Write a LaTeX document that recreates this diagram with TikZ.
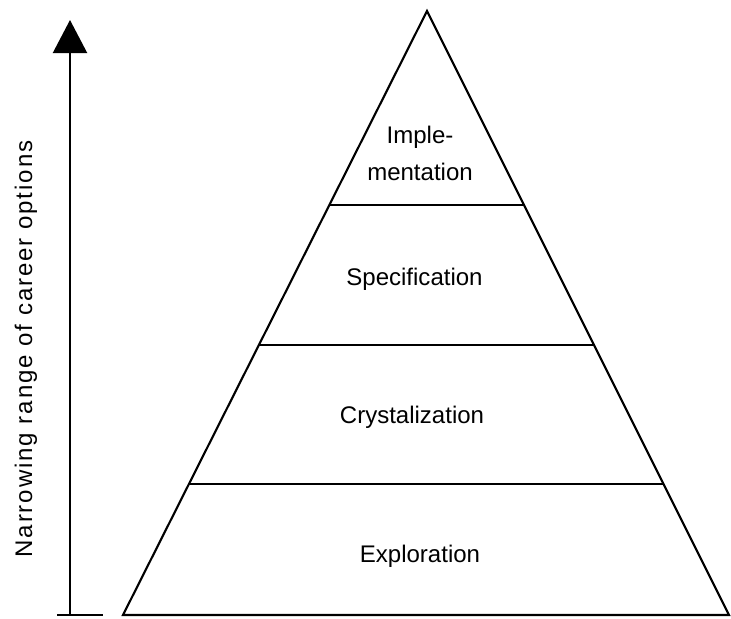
\documentclass[tikz,border=0pt]{standalone}
\usepackage{fontspec}
\setmainfont{Liberation Sans}
\usetikzlibrary{arrows.meta,calc}

\begin{document}
\begin{tikzpicture}[x=0.03cm, y=-0.03cm, line width=1.8pt,
    lbl/.style={font=\fontsize{20.5}{31.6}\selectfont, inner sep=0pt}]
        \useasboundingbox (0,0) rectangle (731,618);
        % pyramid corners
        \coordinate (apex) at (427,11);
        \coordinate (bl) at (123,615);
        \coordinate (br) at (729,615);
        \draw[line join=miter] (bl) -- (apex) -- (br) -- cycle;
        % layer borders
        \coordinate (l1) at ($(apex)!0.321!(bl)$);
        \coordinate (r1) at ($(apex)!0.321!(br)$);
        \coordinate (l2) at ($(apex)!0.553!(bl)$);
        \coordinate (r2) at ($(apex)!0.553!(br)$);
        \coordinate (l3) at ($(apex)!0.783!(bl)$);
        \coordinate (r3) at ($(apex)!0.783!(br)$);
        \draw (l1) -- (r1);
        \draw (l2) -- (r2);
        \draw (l3) -- (r3);
        % layer names
        \node[lbl, align=center] (impl) at (420,153.8) {Imple-\\mentation};
        \node[lbl, anchor=base] (spec) at (414.5,285) {Specification};
        \node[lbl, anchor=base] (crys) at (412,423) {Crystalization};
        \node[lbl, anchor=base] (expl) at (420,562) {Exploration};
        % axis
        \coordinate (g1) at (57,615);
        \coordinate (g2) at (103,615);
        \coordinate (a0) at (70,615);
        \coordinate (a1) at (70,20);
        \draw (g1) -- (g2);
        \draw[-{Triangle[width=1.02cm, length=0.99cm]}] (a0) -- (a1);
        \node[lbl, rotate=90, anchor=base] (axis) at (32,349)
          {\addfontfeatures{LetterSpace=8}Narrowing range of career options};
      \end{tikzpicture}
\end{document}
